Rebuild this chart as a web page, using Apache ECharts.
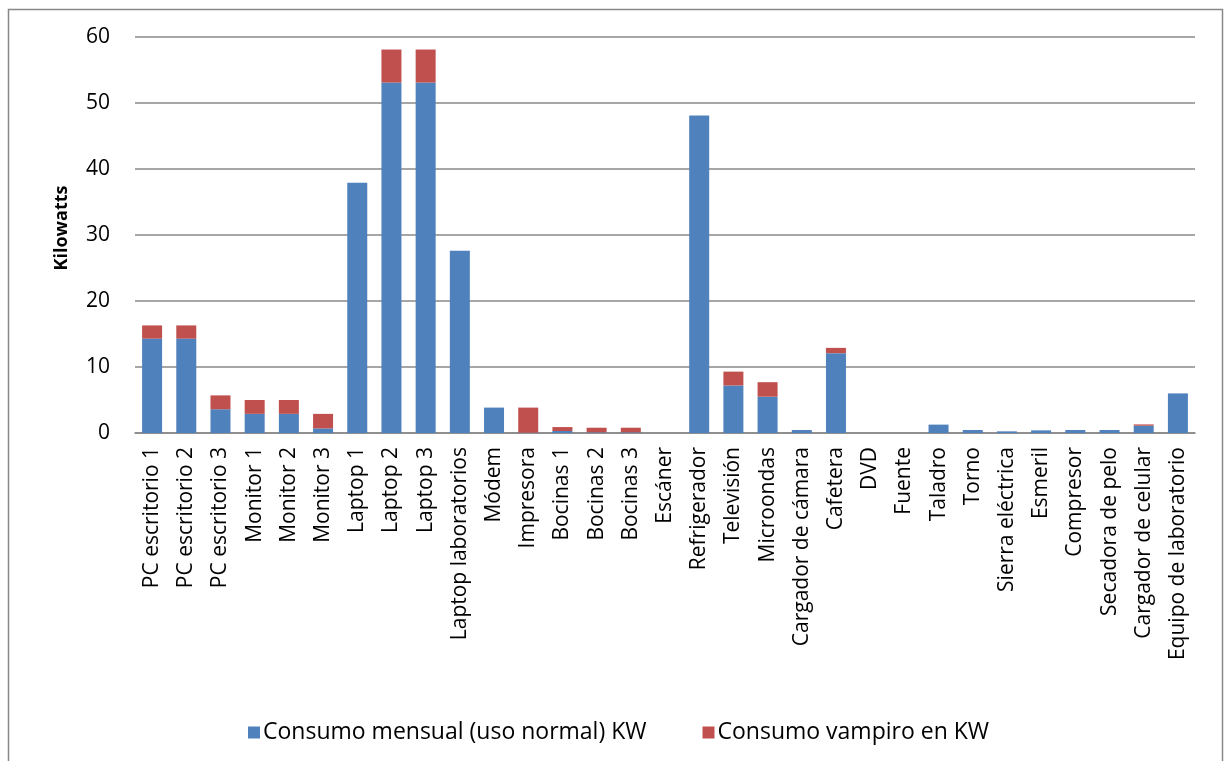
<!DOCTYPE html>
<html>
<head>
<meta charset="utf-8">
<style>
  html, body { margin: 0; padding: 0; background: #fff; }
  #chart { width: 1228px; height: 761px; }
</style>
<script src="https://cdn.jsdelivr.net/npm/echarts@6/dist/echarts.min.js"></script>
</head>
<body>
<div id="chart"></div>
<script>
// Monthly consumption per device, split into normal use and standby ("vampire") draw
const categories = [
  'PC escritorio 1', 'PC escritorio 2', 'PC escritorio 3', 'Monitor 1', 'Monitor 2', 'Monitor 3',
  'Laptop 1', 'Laptop 2', 'Laptop 3', 'Laptop laboratorios', 'Módem', 'Impresora',
  'Bocinas 1', 'Bocinas 2', 'Bocinas 3', 'Escáner', 'Refrigerador', 'Televisión',
  'Microondas', 'Cargador de cámara', 'Cafetera', 'DVD', 'Fuente', 'Taladro',
  'Torno', 'Sierra eléctrica', 'Esmeril', 'Compresor', 'Secadora de pelo',
  'Cargador de celular', 'Equipo de laboratorio'
];
const consumoNormal = [
  14.3, 14.3, 3.6, 2.9, 2.9, 0.7,
  37.9, 53.1, 53.1, 27.6, 3.85, 0.05,
  0.3, 0.1, 0.1, 0, 48.1, 7.2,
  5.5, 0.45, 12.1, 0, 0, 1.27,
  0.45, 0.25, 0.4, 0.45, 0.45,
  1.1, 6.0
];
const consumoVampiro = [
  2.0, 2.0, 2.1, 2.1, 2.1, 2.2,
  0, 5.0, 5.0, 0, 0, 3.8,
  0.6, 0.7, 0.7, 0, 0, 2.1,
  2.2, 0, 0.8, 0, 0, 0,
  0, 0, 0, 0, 0,
  0.2, 0
];
const yTicks = { min: 0, max: 60, interval: 10 };

const FONT = '"Open Sans", Lato, sans-serif';
const chart = echarts.init(document.getElementById('chart'), null, { renderer: 'canvas' });

// zero values are left out so no sliver is drawn on the baseline
const toBar = v => (v === 0 ? '-' : v);

chart.setOption({
  animation: false,
  backgroundColor: '#ffffff',
  textStyle: { fontFamily: FONT, color: '#000' },
  graphic: [
    {
      type: 'rect',
      shape: { x: 8.5, y: 9.5, width: 1214, height: 760 },
      style: { fill: 'none', stroke: '#888888', lineWidth: 1.5 },
      silent: true,
      z: -1
    },
    {
      type: 'text',
      x: 62,
      y: 228,
      rotation: Math.PI / 2,
      style: {
        text: 'Kilowatts',
        font: 'bold 18px ' + FONT,
        fill: '#000',
        align: 'center',
        verticalAlign: 'middle'
      },
      silent: true
    }
  ],
  grid: { left: 135, right: 33, top: 37, bottom: 328 },
  legend: {
    top: 716,
    left: 243,
    itemWidth: 12,
    itemHeight: 12,
    itemGap: 56,
    icon: 'rect',
    textStyle: { fontFamily: FONT, fontSize: 23, color: '#000', padding: [0, 0, 0, -2] },
    data: ['Consumo mensual (uso normal) KW', 'Consumo vampiro en KW']
  },
  xAxis: {
    type: 'category',
    data: categories,
    axisLine: { show: true, lineStyle: { color: '#888888', width: 1.5 } },
    axisTick: { show: false },
    axisLabel: {
      rotate: 90,
      interval: 0,
      fontSize: 21,
      fontFamily: FONT,
      color: '#000',
      margin: 14
    }
  },
  yAxis: {
    type: 'value',
    min: yTicks.min,
    max: yTicks.max,
    interval: yTicks.interval,
    axisLine: { show: false },
    axisTick: { show: false },
    axisLabel: { fontSize: 21, fontFamily: FONT, color: '#000', margin: 25 },
    splitLine: { lineStyle: { color: '#888888', width: 1.5 } }
  },
  series: [
    {
      name: 'Consumo mensual (uso normal) KW',
      type: 'bar',
      stack: 'total',
      barWidth: 20,
      data: consumoNormal.map(toBar),
      itemStyle: { color: '#4F81BD' }
    },
    {
      name: 'Consumo vampiro en KW',
      type: 'bar',
      stack: 'total',
      barWidth: 20,
      data: consumoVampiro.map(toBar),
      itemStyle: { color: '#C0504D' }
    }
  ]
});
</script>
</body>
</html>
